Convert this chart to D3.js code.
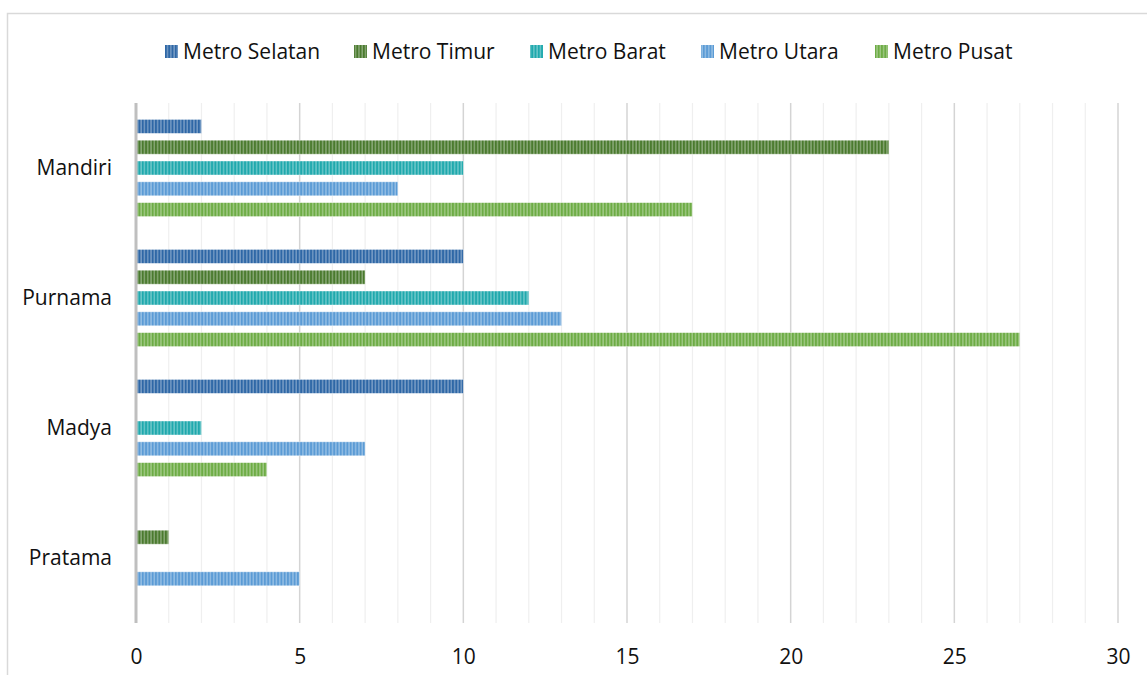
<!DOCTYPE html>
<html><head><meta charset="utf-8">
<script src="https://cdn.jsdelivr.net/npm/d3@7"></script>
<style>body{margin:0;background:#fff}svg{display:block}text{font-family:"Open Sans",sans-serif;fill:#111}</style>
</head><body><svg id="c" width="1147" height="675"></svg>
<script>
const categories = ["Mandiri","Purnama","Madya","Pratama"];
const seriesNames = ["Metro Selatan","Metro Timur","Metro Barat","Metro Utara","Metro Pusat"];
const seriesColors = ["#2E67A6","#4A7A2E","#1FA9AD","#5B9BD5","#6DAC45"];
const valSelatan = [2,10,10,0];
const valTimur   = [23,7,0,1];
const valBarat   = [10,12,2,0];
const valUtara   = [8,13,7,5];
const valPusat   = [17,27,4,0];
const xTicks = [0,5,10,15,20,25,30];
const seriesValues = [valSelatan,valTimur,valBarat,valUtara,valPusat];

const FS = 21;
const svg = d3.select("#c");
const defs = svg.append("defs");
seriesColors.forEach((c,i)=>{
  const p = defs.append("pattern").attr("id","p"+i).attr("patternUnits","userSpaceOnUse")
    .attr("width",3.3).attr("height",10);
  p.append("rect").attr("width",3.3).attr("height",10).attr("fill",c);
  p.append("rect").attr("x",1.8).attr("width",1.5).attr("height",10).attr("fill","#fff").attr("opacity",0.33);
});

// frame
svg.append("rect").attr("x",7.5).attr("y",13.5).attr("width",1200).attr("height",800)
  .attr("fill","none").attr("stroke","#d9d9d9").attr("stroke-width",1.5);

const x = d3.scaleLinear().domain([0,30]).range([136,1118]);
const y = d3.scaleBand().domain(categories).range([103,623]);
const inner = d3.scaleBand().domain(seriesNames).range([0,104]);
const innerOff = (y.bandwidth()-104)/2;

// gridlines
const g = svg.append("g");
d3.range(1,31).forEach(v=>{
  g.append("line").attr("x1",x(v)).attr("x2",x(v)).attr("y1",103).attr("y2",623)
   .attr("stroke", v%5===0 ? "#d4d4d4" : "#efefef").attr("stroke-width", v%5===0?1.5:1.2);
});

// bars
seriesNames.forEach((s,si)=>{
  svg.append("g").selectAll("rect").data(categories.map((c,ci)=>({c,v:seriesValues[si][ci]})).filter(d=>d.v>0))
    .join("rect")
    .attr("x",x(0)).attr("width",d=>x(d.v)-x(0))
    .attr("y",d=>y(d.c)+innerOff+inner(s)+3.4).attr("height",14)
    .attr("fill","url(#p"+si+")")
    .attr("stroke","#fff").attr("stroke-opacity",0.5).attr("stroke-width",0.8);
});

// axis line
svg.append("line").attr("x1",x(0)).attr("x2",x(0)).attr("y1",103).attr("y2",623)
  .attr("stroke","#bfbfbf").attr("stroke-width",3);

// x tick labels
const xa = svg.append("g").attr("transform","translate(0,657)")
  .call(d3.axisBottom(x).tickValues(xTicks).tickSize(0).tickPadding(0));
xa.select(".domain").remove();
xa.selectAll("text").attr("font-size",FS).attr("fill","#111").attr("font-family","'Open Sans',sans-serif").attr("dy","0.35em").attr("y",0);

// y labels
const ya = svg.append("g").attr("transform","translate(112,0)")
  .call(d3.axisLeft(y).tickSize(0).tickPadding(0));
ya.select(".domain").remove();
ya.selectAll("text").attr("font-size",FS).attr("fill","#111").attr("font-family","'Open Sans',sans-serif");

// legend
const legX = [165,354,530,701,875];
const leg = svg.append("g");
seriesNames.forEach((s,i)=>{
  leg.append("rect").attr("x",legX[i]).attr("y",45).attr("width",13).attr("height",13).attr("fill","url(#p"+i+")");
  leg.append("text").attr("x",legX[i]+18).attr("y",52).attr("dy","0.35em").attr("font-size",FS).text(s);
});
</script></body></html>
